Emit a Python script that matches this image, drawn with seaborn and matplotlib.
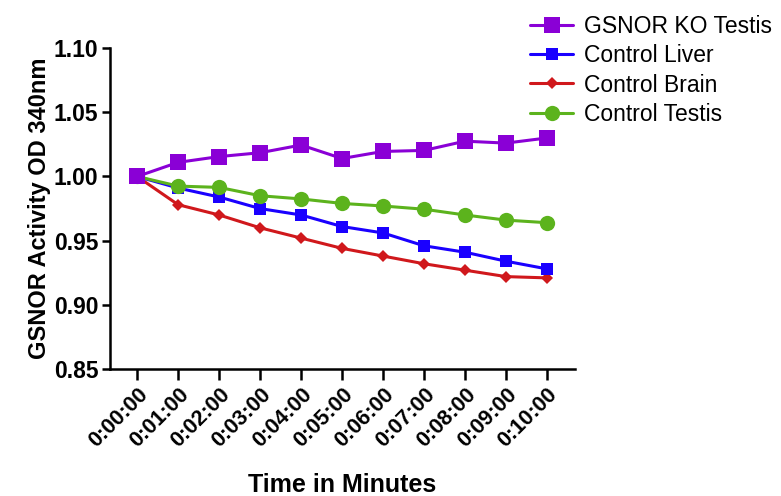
import seaborn as sns
import pandas as pd
import numpy as np
import matplotlib.pyplot as plt

minutes = [0, 1, 2, 3, 4, 5, 6, 7, 8, 9, 10]
time_labels = ['0:00:00', '0:01:00', '0:02:00', '0:03:00', '0:04:00', '0:05:00',
               '0:06:00', '0:07:00', '0:08:00', '0:09:00', '0:10:00']
ko_testis = [1.000, 1.011, 1.0155, 1.0185, 1.0245, 1.0140, 1.0195, 1.0203, 1.0275, 1.0260, 1.0300]
ctrl_liver = [1.000, 0.991, 0.984, 0.975, 0.970, 0.961, 0.956, 0.946, 0.941, 0.934, 0.928]
ctrl_brain = [1.000, 0.978, 0.970, 0.960, 0.952, 0.944, 0.938, 0.932, 0.927, 0.922, 0.921]
ctrl_testis = [1.000, 0.9925, 0.9915, 0.985, 0.9825, 0.979, 0.977, 0.9745, 0.970, 0.966, 0.964]

sns.set_style('ticks')
plt.rcParams['font.family'] = ['Liberation Sans', 'DejaVu Sans']
plt.rcParams['text.color'] = 'black'

fig = plt.figure(figsize=(7.81, 4.96), dpi=100)
ax = fig.add_axes([0.141, 0.256, 0.595, 0.647])

# drawing order: red, blue, green, purple on top
series = [
    ('Control Brain', ctrl_brain, '#d0181c', 'D', 6),
    ('Control Liver', ctrl_liver, '#1a00ff', 's', 8),
    ('Control Testis', ctrl_testis, '#5cb31d', 'o', 11),
    ('GSNOR KO Testis', ko_testis, '#8a00d6', 's', 11),
]
handles = {}
for name, vals, col, mk, ms in series:
    df = pd.DataFrame({'minute': minutes, 'od': vals})
    sns.lineplot(x='minute', y='od', data=df, color=col, marker=mk, ms=ms,
                 markeredgewidth=0, linewidth=2.2, ax=ax, label=name)
    handles[name] = ax.get_lines()[-1]

ax.set_xlim(-0.66, 10.68)
ax.set_ylim(0.85, 1.10)
yt = [0.85, 0.90, 0.95, 1.00, 1.05, 1.10]
ax.set_yticks(yt)
ax.set_yticklabels(['%.2f' % v for v in yt], fontsize=16.5, fontweight='bold')
ax.set_xticks(minutes)
ax.set_xticklabels(time_labels, rotation=45, ha='right', rotation_mode='anchor',
                   fontsize=15.5, fontweight='bold')
sns.despine(ax=ax)
for s in ['left', 'bottom']:
    ax.spines[s].set_linewidth(1.8)
    ax.spines[s].set_color('black')
ax.tick_params(axis='y', length=6, width=1.8, pad=2.5, colors='black')
ax.tick_params(axis='x', length=8, width=1.8, pad=3, colors='black')
ax.set_xlabel('Time in Minutes', fontsize=18, fontweight='bold', labelpad=15, color='black')
ax.set_ylabel('GSNOR Activity OD 340nm', fontsize=17, fontweight='bold', labelpad=2, color='black')

order = ['GSNOR KO Testis', 'Control Liver', 'Control Brain', 'Control Testis']
ax.legend([handles[n] for n in order], order, loc='upper left',
          bbox_to_anchor=(0.652, 1.012), bbox_transform=fig.transFigure,
          frameon=False, fontsize=16.5, handlelength=1.9, labelspacing=0.28,
          handletextpad=0.45)

fig.savefig('out.png', dpi=100)
